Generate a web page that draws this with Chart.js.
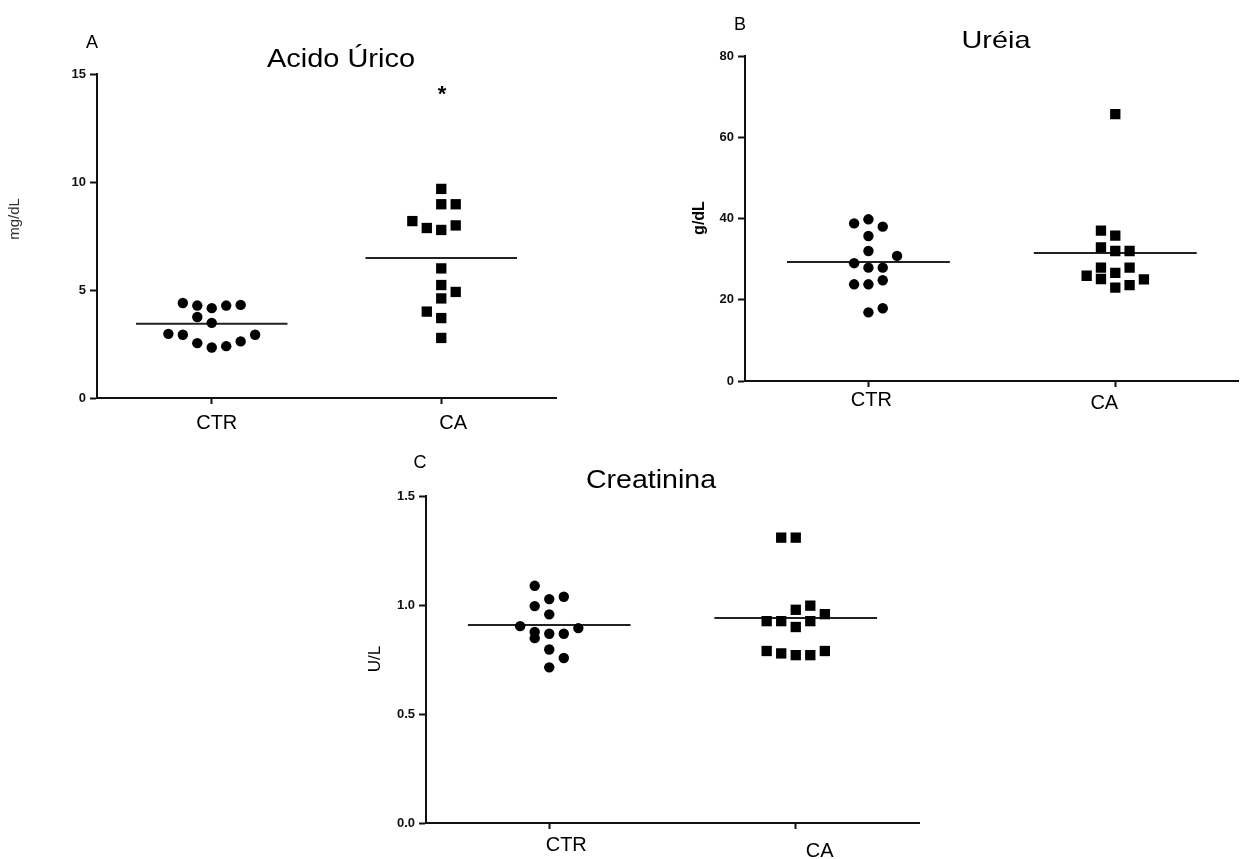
<!DOCTYPE html>
<html>
<head>
<meta charset="utf-8">
<script src="https://cdn.jsdelivr.net/npm/chart.js@4.4.1/dist/chart.umd.min.js"></script>
<style>
  body { margin: 0; background: #fff; }
  canvas { position: absolute; }
</style>
</head>
<body>
<canvas id="chartA" width="600" height="440" style="left:0px;top:0px"></canvas>
<canvas id="chartB" width="606" height="420" style="left:640px;top:0px"></canvas>
<canvas id="chartC" width="600" height="419" style="left:340px;top:440px"></canvas>
<script>
const groups = ["CTR", "CA"];

/* A - Ácido úrico (mg/dL) */
const uricCtr = [4.40, 4.28, 4.16, 4.28, 4.31, 3.75, 3.48, 2.97, 2.93, 2.93, 2.54, 2.34, 2.40, 2.62];
const uricCtrSlot = [-2, -1, 0, 1, 2, -1, 0, -3, -2, 3, -1, 0, 1, 2];
const uricCa = [9.68, 8.97, 8.97, 8.19, 7.87, 7.78, 7.99, 6.00, 5.23, 4.91, 4.61, 4.00, 3.70, 2.78];
const uricCaSlot = [0, 0, 1, -2, -1, 0, 1, 0, 0, 1, 0, -1, 0, 0];
const uricMean = [3.44, 6.48];

/* B - Uréia (g/dL) */
const ureaCtr = [38.8, 39.8, 38.0, 35.7, 32.0, 30.8, 29.0, 27.9, 27.9, 24.8, 23.8, 23.8, 17.9, 16.9];
const ureaCtrSlot = [-1, 0, 1, 0, 0, 2, -1, 0, 1, 1, -1, 0, 1, 0];
const ureaCa = [65.7, 37.0, 35.8, 32.9, 32.0, 32.0, 27.9, 27.9, 26.6, 25.9, 25.1, 25.0, 23.6, 23.0];
const ureaCaSlot = [0, -1, 0, -1, 0, 1, -1, 1, 0, -2, -1, 2, 1, 0];
const ureaMean = [29.3, 31.5];

/* C - Creatinina (U/L) */
const creatCtr = [1.088, 1.027, 1.038, 0.995, 0.957, 0.903, 0.894, 0.876, 0.868, 0.868, 0.848, 0.796, 0.757, 0.714];
const creatCtrSlot = [-1, 0, 1, -1, 0, -2, 2, -1, 0, 1, -1, 0, 1, 0];
const creatCa = [1.309, 1.309, 0.978, 0.997, 0.958, 0.926, 0.926, 0.926, 0.899, 0.789, 0.778, 0.770, 0.770, 0.789];
const creatCaSlot = [-1, 0, 0, 1, 2, -2, -1, 1, 0, -2, -1, 0, 1, 2];
const creatMean = [0.908, 0.940];

const FONT = '"Liberation Sans", Arial, sans-serif';
const INK = '#111';

// panel letter, stretched title, group names and the rotated unit label
const panelText = {
    id: 'panelText',
    afterDraw(chart, args, o) {
        const ctx = chart.ctx;
        const xs = chart.scales.x;
        ctx.save();
        ctx.fillStyle = '#000';
        ctx.textAlign = 'center';
        ctx.textBaseline = 'alphabetic';

        ctx.font = '18px ' + FONT;
        ctx.fillText(o.letter, o.letterX, o.letterY);

        ctx.font = o.titleSize + 'px ' + FONT;
        const sx = o.titleWidth / ctx.measureText(o.title).width;
        ctx.save();
        ctx.translate(o.titleX, o.titleY);
        ctx.scale(sx, 1);
        ctx.fillText(o.title, 0, 0);
        ctx.restore();

        ctx.font = '20px ' + FONT;
        groups.forEach((g, i) => {
            const [dx, dy] = o.labels[i];
            ctx.fillText(g, xs.getPixelForValue(i + 1) + dx, xs.top + dy);
        });

        if (o.star) {
            ctx.font = 'bold 22px ' + FONT;
            ctx.fillText('*', o.star[0], o.star[1]);
        }

        ctx.translate(o.unitX, o.unitY);
        ctx.rotate(-Math.PI / 2);
        ctx.textBaseline = 'middle';
        ctx.fillStyle = o.unitColor || '#000';
        ctx.font = o.unitFont;
        ctx.fillText(o.unit, 0, 0);
        ctx.restore();
    }
};

function swarm(values, slots, group, step) {
    return values.map((v, i) => ({ x: group + slots[i] * step, y: v }));
}

function meanLine(mean, group) {
    return [{ x: group - 0.33, y: mean }, { x: group + 0.33, y: mean }];
}

function dotPlot(id, p) {
    const lineSet = data => ({
        data: data, showLine: true, pointRadius: 0,
        borderColor: '#222', borderWidth: 2, order: 2
    });
    new Chart(id, {
        type: 'scatter',
        data: {
            datasets: [
                { data: swarm(p.ctr, p.ctrSlot, 1, p.step), pointStyle: 'circle', pointRadius: 5.2,
                  backgroundColor: '#000', borderWidth: 0, order: 1 },
                { data: swarm(p.ca, p.caSlot, 2, p.step), pointStyle: 'rect', pointRadius: 7.3,
                  backgroundColor: '#000', borderWidth: 0, order: 1 },
                lineSet(meanLine(p.mean[0], 1)),
                lineSet(meanLine(p.mean[1], 2))
            ]
        },
        options: {
            responsive: false,
            animation: false,
            layout: { padding: p.padding },
            plugins: {
                legend: { display: false },
                tooltip: { enabled: false },
                panelText: p.text
            },
            scales: {
                x: {
                    type: 'linear', min: 0.5, max: 2.5,
                    afterBuildTicks: s => { s.ticks = [{ value: 1 }, { value: 2 }]; },
                    afterFit: s => { s.height = p.xHeight; },
                    ticks: { display: false },
                    grid: { drawOnChartArea: false, tickLength: 6, tickWidth: 2, tickColor: INK },
                    border: { color: INK, width: 2 }
                },
                y: {
                    min: 0, max: p.yMax,
                    afterFit: s => { s.width = p.yWidth; },
                    ticks: { stepSize: p.yStep, color: INK, padding: 4,
                             callback: p.yFormat || (v => v),
                             font: { family: FONT, size: 13, weight: 'bold' } },
                    grid: { drawOnChartArea: false, tickLength: 7, tickWidth: 2, tickColor: INK },
                    border: { color: INK, width: 2 }
                }
            }
        },
        plugins: [panelText]
    });
}

dotPlot('chartA', {
    ctr: uricCtr, ctrSlot: uricCtrSlot, ca: uricCa, caSlot: uricCaSlot, mean: uricMean,
    step: 0.063, yMax: 15, yStep: 5, yWidth: 97, xHeight: 40,
    padding: { top: 74, right: 44, bottom: 2, left: 0 },
    text: { letter: 'A', letterX: 92, letterY: 48,
            title: 'Acido Úrico', titleSize: 26, titleWidth: 148, titleX: 341, titleY: 67,
            labels: [[5, 31], [12, 31]],
            star: [442, 101], unit: 'mg/dL', unitX: 15, unitY: 219,
            unitFont: '15px ' + FONT, unitColor: '#333' }
});

dotPlot('chartB', {
    ctr: ureaCtr, ctrSlot: ureaCtrSlot, ca: ureaCa, caSlot: ureaCaSlot, mean: ureaMean,
    step: 0.058, yMax: 80, yStep: 20, yWidth: 105, xHeight: 38,
    padding: { top: 56, right: 7, bottom: 1, left: 0 },
    text: { letter: 'B', letterX: 100, letterY: 30,
            title: 'Uréia', titleSize: 24, titleWidth: 69, titleX: 356, titleY: 48,
            labels: [[3, 24.5], [-11, 27.5]],
            unit: 'g/dL', unitX: 60, unitY: 218, unitFont: 'bold 16px ' + FONT }
});

dotPlot('chartC', {
    ctr: creatCtr, ctrSlot: creatCtrSlot, ca: creatCa, caSlot: creatCaSlot, mean: creatMean,
    step: 0.059, yMax: 1.5, yStep: 0.5, yWidth: 86, xHeight: 34,
    yFormat: v => v.toFixed(1),
    padding: { top: 56, right: 21, bottom: 2, left: 0 },
    text: { letter: 'C', letterX: 80, letterY: 28,
            title: 'Creatinina', titleSize: 25, titleWidth: 130, titleX: 311, titleY: 48,
            labels: [[17, 28], [24, 34]],
            unit: 'U/L', unitX: 35, unitY: 219, unitFont: '17px ' + FONT }
});
</script>
</body>
</html>
